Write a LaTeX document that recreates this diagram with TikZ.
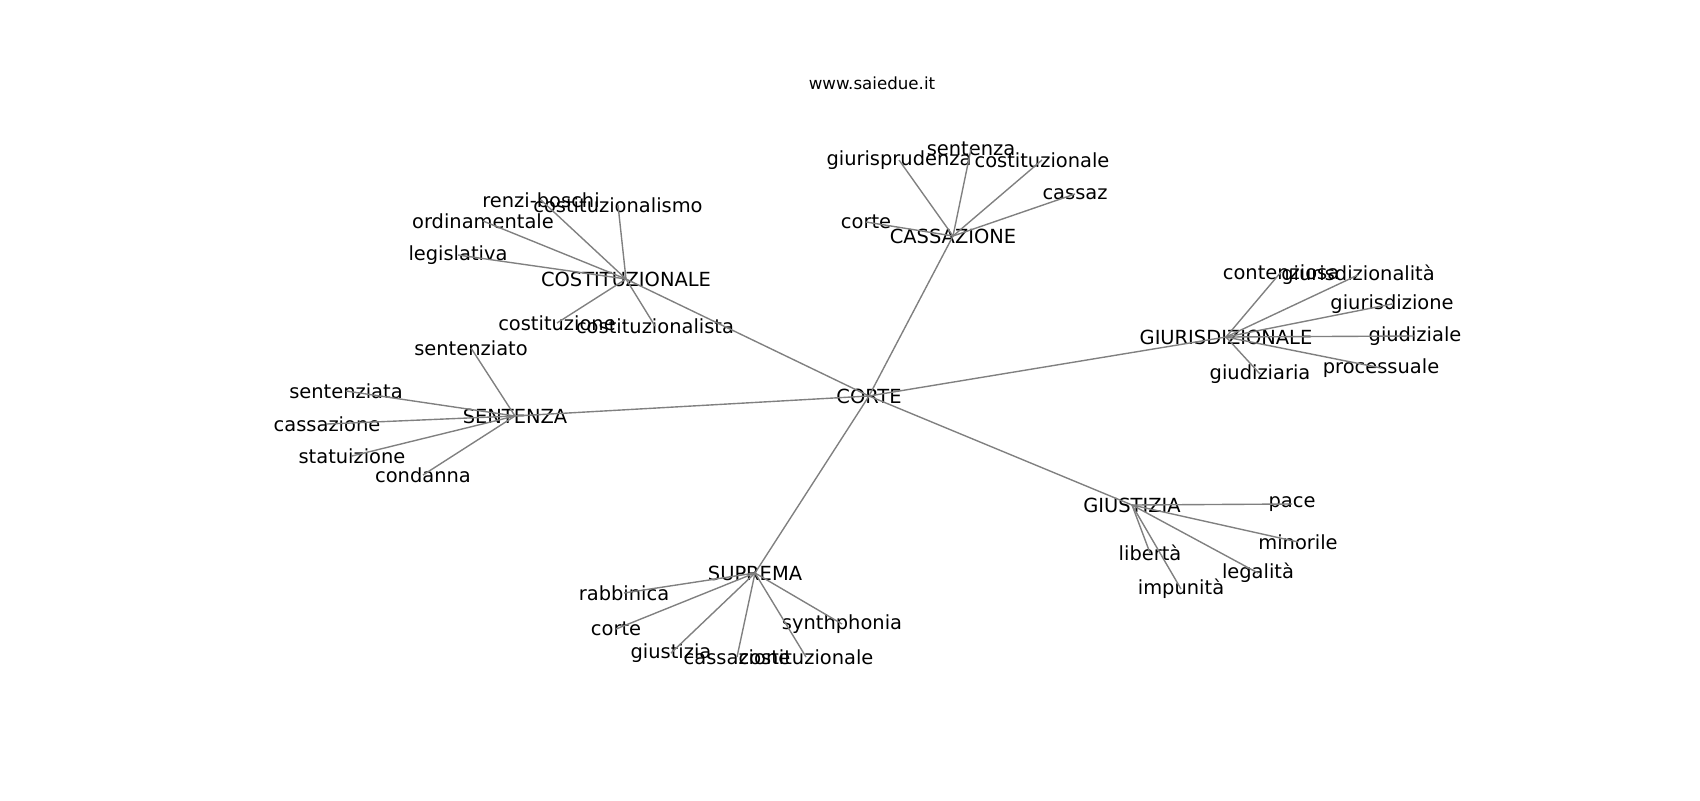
\documentclass[tikz,border=0pt]{standalone}
\usepackage{fontspec}
\setmainfont{DejaVu Sans}
\definecolor{edgegray}{RGB}{128,128,128}
\tikzset{
    word/.style={inner sep=0pt, font=\fontsize{14}{16}\selectfont},
    link/.style={edgegray, line width=1pt},
}
\begin{document}
\begin{tikzpicture}[x=0.72pt, y=-0.72pt]
    \useasboundingbox (0, 0) rectangle (1700, 800);
    \node[inner sep=0pt, font=\fontsize{12}{14}\selectfont] (title) at (872, 83) {www.saiedue.it};
    % hubs
    \node[word] (corte) at (869, 396) {CORTE};
    \node[word] (costit) at (626, 279) {COSTITUZIONALE};
    \node[word] (cassaz) at (953, 236) {CASSAZIONE};
    \node[word] (giurisd) at (1226, 337) {GIURISDIZIONALE};
    \node[word] (giust) at (1132, 505) {GIUSTIZIA};
    \node[word] (suprema) at (755, 573) {SUPREMA};
    \node[word] (sentenza) at (515, 416) {SENTENZA};
    % around COSTITUZIONALE
    \node[word] (renzi) at (541, 200) {renzi-boschi};
    \node[word] (cismo) at (618, 205) {costituzionalismo};
    \node[word] (ordin) at (483, 221) {ordinamentale};
    \node[word] (legis) at (458, 255) {legislativa};
    \node[word] (cione) at (557, 323) {costituzione};
    \node[word] (cista) at (655, 326) {costituzionalista};
    % around CASSAZIONE
    \node[word] (giurispr) at (899, 160) {giurisprudenza};
    \node[word] (sentA) at (971, 149) {sentenza};
    \node[word] (costA) at (1042, 160) {costituzionale};
    \node[word] (cassazA) at (1075, 194) {cassaz};
    \node[word] (corteA) at (866, 222) {corte};
    % around GIURISDIZIONALE
    \node[word] (conten) at (1281, 272) {contenziosa};
    \node[word] (gita) at (1358, 275) {giurisdizionalità};
    \node[word] (gione) at (1392, 304) {giurisdizione};
    \node[word] (giudiz) at (1415, 336) {giudiziale};
    \node[word] (process) at (1381, 368) {processuale};
    \node[word] (giudiar) at (1260, 374) {giudiziaria};
    % around GIUSTIZIA
    \node[word] (pace) at (1292, 504) {pace};
    \node[word] (minor) at (1298, 542) {minorile};
    \node[word] (legal) at (1258, 573) {legalità};
    \node[word] (liber) at (1150, 553) {libertà};
    \node[word] (impun) at (1181, 589) {impunità};
    % around SUPREMA
    \node[word] (rabbin) at (624, 593) {rabbinica};
    \node[word] (corteB) at (616, 629) {corte};
    \node[word] (giustB) at (671, 653) {giustizia};
    \node[word] (cassazB) at (737, 657) {cassazione};
    \node[word] (costB) at (806, 657) {costituzionale};
    \node[word] (synth) at (842, 624) {synthphonia};
    % around SENTENZA
    \node[word] (sato) at (471, 348) {sentenziato};
    \node[word] (sata) at (346, 391) {sentenziata};
    \node[word] (cassazC) at (327, 424) {cassazione};
    \node[word] (statu) at (352, 456) {statuizione};
    \node[word] (conda) at (423, 475) {condanna};
    % edges
    \foreach \hub in {costit, cassaz, giurisd, giust, suprema, sentenza}
        \draw[link] (corte.center) -- (\hub.center);
    \foreach \leaf in {renzi, cismo, ordin, legis, cione, cista}
        \draw[link] (costit.center) -- (\leaf.center);
    \foreach \leaf in {giurispr, sentA, costA, cassazA, corteA}
        \draw[link] (cassaz.center) -- (\leaf.center);
    \foreach \leaf in {conten, gita, gione, giudiz, process, giudiar}
        \draw[link] (giurisd.center) -- (\leaf.center);
    \foreach \leaf in {pace, minor, legal, liber, impun}
        \draw[link] (giust.center) -- (\leaf.center);
    \foreach \leaf in {rabbin, corteB, giustB, cassazB, costB, synth}
        \draw[link] (suprema.center) -- (\leaf.center);
    \foreach \leaf in {sato, sata, cassazC, statu, conda}
        \draw[link] (sentenza.center) -- (\leaf.center);
\end{tikzpicture}
\end{document}
